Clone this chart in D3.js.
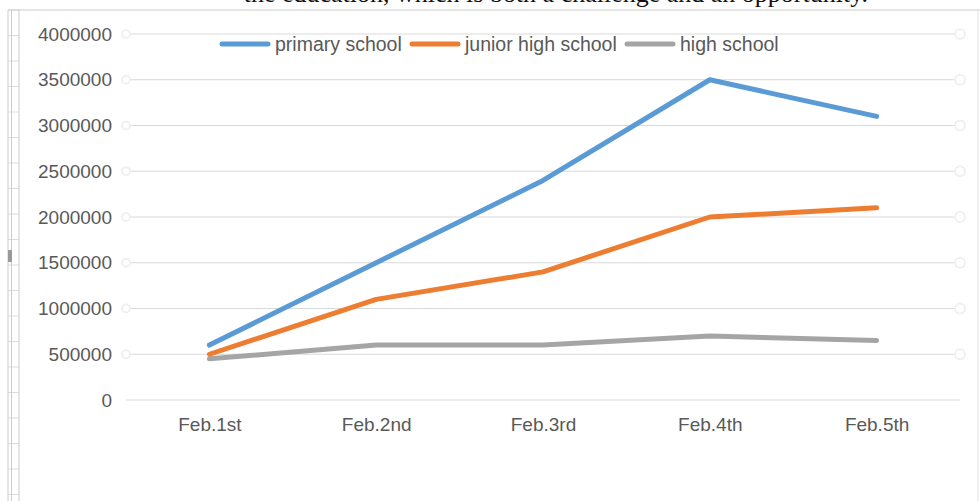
<!DOCTYPE html>
<html>
<head>
<meta charset="utf-8">
<title></title>
<script src="https://d3js.org/d3.v7.min.js"></script>
<style>
  body { margin: 0; background: #fff; }
  .tick text { font-family: "Liberation Sans", Arial, sans-serif; }
</style>
</head>
<body>
<div id="chart"></div>
<script>
// data
var days = ["Feb.1st", "Feb.2nd", "Feb.3rd", "Feb.4th", "Feb.5th"];
var primary = [600000, 1500000, 2400000, 3500000, 3100000];
var junior = [500000, 1100000, 1400000, 2000000, 2100000];
var high = [450000, 600000, 600000, 700000, 650000];
var seriesNames = ["primary school", "junior high school", "high school"];
var yTicks = [0, 500000, 1000000, 1500000, 2000000, 2500000, 3000000, 3500000, 4000000];

var colors = ["#5b9bd5", "#ed7d31", "#a5a5a5"];
var series = [primary, junior, high];

var W = 980, H = 501;
var svg = d3.select("#chart").append("svg")
  .attr("width", W).attr("height", H);

// the caption line above, cut by the screenshot
svg.append("text")
  .attr("x", 868).attr("y", 1.5)
  .attr("text-anchor", "end")
  .style("font-family", "'Liberation Serif', 'Times New Roman', serif")
  .style("font-size", "26px")
  .attr("fill", "#111")
  .text("the education, which is both a challenge and an opportunity.");

// spreadsheet bits on the left
var rows = d3.range(10, 501, 25.5);
svg.append("g").selectAll("line").data(rows).enter().append("line")
  .attr("x1", 8).attr("x2", 19)
  .attr("y1", function(d) { return d; }).attr("y2", function(d) { return d; })
  .attr("stroke", "#ddd");
[8, 11.5, 19].forEach(function(x) {
  svg.append("line").attr("x1", x).attr("x2", x).attr("y1", 10).attr("y2", H)
    .attr("stroke", "#ccc");
});
svg.append("rect").attr("x", 8).attr("y", 250).attr("width", 4).attr("height", 12).attr("fill", "#999");

// chart frame
svg.append("line").attr("x1", 8).attr("x2", W).attr("y1", 10).attr("y2", 10).attr("stroke", "#ccc");
svg.append("line").attr("x1", 978).attr("x2", 978).attr("y1", 10).attr("y2", H).attr("stroke", "#e2e2e2");

var plot = {left: 126, right: 960, top: 34, bottom: 400};

var x = d3.scalePoint()
  .domain(days)
  .range([plot.left, plot.right])
  .padding(0.5);
var y = d3.scaleLinear()
  .domain([0, 4000000])
  .range([plot.bottom, plot.top]);

// gridlines
svg.append("g").selectAll("line").data(yTicks).enter().append("line")
  .attr("x1", function(d) { return d === 0 ? plot.left : 131; })
  .attr("x2", function(d) { return d === 0 ? plot.right : 955; })
  .attr("y1", function(d) { return y(d); })
  .attr("y2", function(d) { return y(d); })
  .attr("stroke", "#d9d9d9")
  .attr("stroke-width", 1.2);

// faint handles at gridline ends
svg.append("g").selectAll("circle").data(yTicks.filter(function(d) { return d > 0; })).enter().append("circle")
  .attr("cx", 960).attr("cy", function(d) { return y(d); })
  .attr("r", 5).attr("fill", "none").attr("stroke", "#f0f0f0").attr("stroke-width", 2);
svg.append("g").selectAll("circle").data(yTicks.filter(function(d) { return d > 0; })).enter().append("circle")
  .attr("cx", 126).attr("cy", function(d) { return y(d); })
  .attr("r", 4).attr("fill", "none").attr("stroke", "#f0f0f0").attr("stroke-width", 2);

// y axis labels
var yAxis = svg.append("g")
  .attr("transform", "translate(112,0)")
  .call(d3.axisLeft(y).tickValues(yTicks).tickSize(0).tickPadding(0).tickFormat(d3.format("d")));
yAxis.select(".domain").remove();
yAxis.selectAll("text").attr("fill", "#595959").style("font-size", "19px");

// x axis labels
var xAxis = svg.append("g")
  .attr("transform", "translate(0," + plot.bottom + ")")
  .call(d3.axisBottom(x).tickSize(0).tickPadding(18));
xAxis.select(".domain").remove();
xAxis.selectAll("text").attr("fill", "#595959").style("font-size", "19px");

// lines, gray first so blue sits on top
var line = d3.line()
  .x(function(d, i) { return x(days[i]); })
  .y(function(d) { return y(d); });
[2, 1, 0].forEach(function(k) {
  svg.append("path")
    .datum(series[k])
    .attr("fill", "none")
    .attr("stroke", colors[k])
    .attr("stroke-width", 5)
    .attr("stroke-linecap", "round")
    .attr("stroke-linejoin", "round")
    .attr("d", line);
});

// legend
var legendX = [222, 412, 627];
var legend = svg.append("g");
seriesNames.forEach(function(name, k) {
  legend.append("line")
    .attr("x1", legendX[k]).attr("x2", legendX[k] + 46)
    .attr("y1", 44).attr("y2", 44)
    .attr("stroke", colors[k]).attr("stroke-width", 5).attr("stroke-linecap", "round");
  legend.append("text")
    .attr("x", legendX[k] + 53).attr("y", 44).attr("dy", ".35em")
    .style("font-family", "'Liberation Sans', Arial, sans-serif")
    .style("font-size", "19.5px")
    .attr("fill", "#595959")
    .text(name);
});
</script>
</body>
</html>
